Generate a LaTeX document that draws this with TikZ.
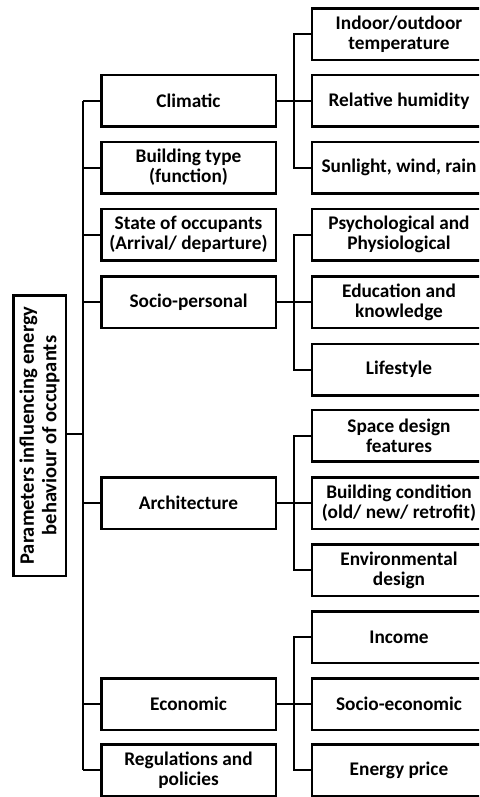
\documentclass[tikz,border=0pt]{standalone}
\usepackage{fontspec}
\setmainfont{Carlito}
\begin{document}
\begin{tikzpicture}[x=1pt,y=-1pt,
  box/.style={draw, line width=2.5pt, minimum width=174.5pt, minimum height=51.5pt,
    align=center, inner sep=0pt, font=\bfseries\fontsize{19.3}{20.2}\selectfont},
  link/.style={line width=2pt},
  thinlink/.style={line width=1.2pt}]
\useasboundingbox (0,0) rectangle (479,797);
\clip (0,0) rectangle (479,797);
% middle column
\node[box] (climatic) at (188.5,101) {Climatic};
\node[box] (building) at (188.5,167.5) {Building type\\(function)};
\node[box] (state) at (188.5,234.5) {State of occupants\\(Arrival/ departure)};
\node[box] (socio) at (188.5,302) {Socio-personal};
\node[box] (arch) at (188.5,503) {Architecture};
\node[box] (econ) at (188.5,704) {Economic};
\node[box] (regs) at (188.5,770) {Regulations and\\policies};
% right column
\node[box] (indoor) at (399,34.5) {Indoor/outdoor\\temperature};
\node[box] (humid) at (399,101) {Relative humidity};
\node[box] (sun) at (399,167.5) {Sunlight, wind, rain};
\node[box] (psych) at (399,234.5) {Psychological and\\Physiological};
\node[box] (edu) at (399,302) {Education and\\knowledge};
\node[box] (life) at (399,369.5) {Lifestyle};
\node[box] (space) at (399,435.5) {Space design\\features};
\node[box] (cond) at (399,503) {Building condition\\(old/ new/ retrofit)};
\node[box] (env) at (399,570) {Environmental\\design};
\node[box] (income) at (399,637) {Income};
\node[box] (soceco) at (399,704) {Socio-economic};
\node[box] (price) at (399,770) {Energy price};
% title
\node[box, rotate=90, minimum width=280.5pt, minimum height=52.5pt,
  font=\bfseries\fontsize{20.5}{22.5}\selectfont] (title) at (39.5,435.5)
  {Parameters influencing energy\\behaviour of occupants};
% left trunk
\coordinate (LT) at (83,0);
\draw[link] (climatic.west -| LT) -- (regs.west -| LT);
\foreach \n in {climatic,building,state,socio,arch,econ,regs}
  \draw[link] (\n.west) -- (\n.west -| LT);
\draw[thinlink] ([yshift=1.5pt]title.south) -- ([yshift=1.5pt]title.south -| LT);
% right trunks
\coordinate (RT) at (293.5,0);
\draw[link] (indoor.west) -| (RT |- sun.west) -- (sun.west);
\draw[link] (climatic.east) -- (humid.west);
\draw[link] (psych.west) -| (RT |- life.west) -- (life.west);
\draw[link] (socio.east) -- (edu.west);
\draw[link] (space.west) -| (RT |- env.west) -- (env.west);
\draw[link] (arch.east) -- (cond.west);
\draw[link] (income.west) -| (RT |- price.west) -- (price.west);
\draw[link] (econ.east) -- (soceco.west);
\end{tikzpicture}
\end{document}
